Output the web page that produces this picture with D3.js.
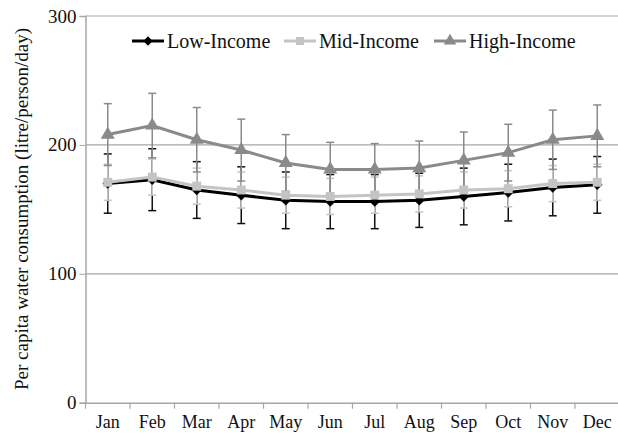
<!DOCTYPE html>
<html>
<head>
<meta charset="utf-8">
<script src="https://cdn.jsdelivr.net/npm/d3@7"></script>
<style>
body { margin: 0; background: #fff; }
svg text { font-family: "Liberation Serif", "DejaVu Serif", serif; fill: #111; }
</style>
</head>
<body>
<svg width="618" height="434"></svg>
<script>
var months = ["Jan","Feb","Mar","Apr","May","Jun","Jul","Aug","Sep","Oct","Nov","Dec"];
var yTicks = [0, 100, 200, 300];

var lowIncome  = [170, 173, 165, 161, 157, 156, 156, 157, 160, 163, 167, 169];
var lowErr     = [23, 24, 22, 22, 22, 21, 21, 21, 22, 22, 22, 22];
var midIncome  = [171, 175, 168, 165, 161, 160, 161, 162, 165, 166, 170, 171];
var midErr     = [14, 14, 14, 14, 14, 14, 14, 14, 14, 14, 14, 14];
var highIncome = [208, 215, 204, 196, 186, 181, 181, 182, 188, 194, 204, 207];
var highErr    = [24, 25, 25, 24, 22, 21, 20, 21, 22, 22, 23, 24];

var series = [
    {name: "Low-Income",  values: lowIncome,  err: lowErr,  color: "#000000", errColor: "#111111", symbol: d3.symbolDiamond2, size: 70},
    {name: "Mid-Income",  values: midIncome,  err: midErr,  color: "#c4c4c4", errColor: "#c4c4c4", symbol: d3.symbolSquare, size: 80},
    {name: "High-Income", values: highIncome, err: highErr, color: "#8a8a8a", errColor: "#8a8a8a", symbol: d3.symbolTriangle, size: 85}
];

var svg = d3.select("svg");
var margin = {left: 85.5, right: -1.5, top: 16, bottom: 31.3};
var width = 618 - margin.left - margin.right;
var height = 434 - margin.top - margin.bottom;
var serif = "'Liberation Serif', 'DejaVu Serif', serif";

var x = d3.scaleBand().domain(months).range([margin.left, margin.left + width]);
var y = d3.scaleLinear().domain([0, 300]).range([margin.top + height, margin.top]);

// gridlines
svg.append("g")
    .selectAll("line")
    .data(yTicks.filter(function(d) {return d > 0}))
    .enter().append("line")
    .attr("x1", margin.left).attr("x2", 618)
    .attr("y1", function(d) {return y(d)}).attr("y2", function(d) {return y(d)})
    .attr("stroke", "#a6a6a6").attr("stroke-width", 1.2);

var yAxis = svg.append("g")
    .attr("transform", "translate(" + margin.left + ",0)")
    .call(d3.axisLeft(y).tickValues(yTicks).tickSize(6).tickPadding(3))
    .attr("font-family", serif);
yAxis.select(".domain").attr("stroke", "#a6a6a6").attr("stroke-width", 1.5);
yAxis.selectAll(".tick line").attr("stroke", "#a6a6a6");
yAxis.selectAll("text").attr("font-size", 19).attr("fill", "#111");

var xAxis = svg.append("g")
    .attr("transform", "translate(0," + y(0) + ")")
    .call(d3.axisBottom(x).tickSize(0).tickPadding(13))
    .attr("font-family", serif);
xAxis.select(".domain").attr("stroke", "#a6a6a6").attr("stroke-width", 1.5);
xAxis.selectAll("text").attr("font-size", 18).attr("fill", "#111");

// category separator ticks
svg.append("g")
    .selectAll("line")
    .data(months)
    .enter().append("line")
    .attr("x1", function(d) {return x(d)}).attr("x2", function(d) {return x(d)})
    .attr("y1", y(0)).attr("y2", y(0) + 6)
    .attr("stroke", "#a6a6a6").attr("stroke-width", 1.2);

var cx = function(i) {return x(months[i]) + x.bandwidth() / 2};
var cap = 4;

// error bars
series.forEach(function(s) {
    var g = svg.append("g");
    s.values.forEach(function(v, i) {
        var top = y(v + s.err[i]), bot = y(v - s.err[i]);
        g.append("line").attr("x1", cx(i)).attr("x2", cx(i)).attr("y1", top).attr("y2", bot)
            .attr("stroke", s.errColor).attr("stroke-width", 1.5);
        [top, bot].forEach(function(yy) {
            g.append("line").attr("x1", cx(i) - cap).attr("x2", cx(i) + cap).attr("y1", yy).attr("y2", yy)
                .attr("stroke", s.errColor).attr("stroke-width", 1.5);
        });
    });
});

var line = d3.line()
    .x(function(d, i) {return cx(i)})
    .y(function(d) {return y(d)});

series.forEach(function(s) {
    svg.append("path")
        .attr("d", line(s.values))
        .attr("fill", "none")
        .attr("stroke", s.color)
        .attr("stroke-width", 3);
    svg.append("g").selectAll("path")
        .data(s.values)
        .enter().append("path")
        .attr("d", d3.symbol().type(s.symbol).size(s.size))
        .attr("transform", function(d, i) {return "translate(" + cx(i) + "," + y(d) + ")"})
        .attr("fill", s.color);
});

// legend
var legendX = [132, 284, 434];
var legend = svg.append("g");
series.forEach(function(s, i) {
    var lg = legend.append("g").attr("transform", "translate(" + legendX[i] + ",41)");
    lg.append("line").attr("x1", 0).attr("x2", 32).attr("y1", 0).attr("y2", 0)
        .attr("stroke", s.color).attr("stroke-width", 3);
    lg.append("path").attr("d", d3.symbol().type(s.symbol).size(s.size * 0.8)).attr("transform", "translate(16,0)")
        .attr("fill", s.color);
    lg.append("text").attr("x", 35).attr("y", 6.5)
        .attr("font-family", serif).attr("font-size", 20).text(s.name);
});

// y axis title
svg.append("text")
    .attr("transform", "translate(28,209) rotate(-90)")
    .attr("text-anchor", "middle")
    .attr("font-family", serif)
    .attr("font-size", 19)
    .text("Per capita water consumption (litre/person/day)");
</script>
</body>
</html>
